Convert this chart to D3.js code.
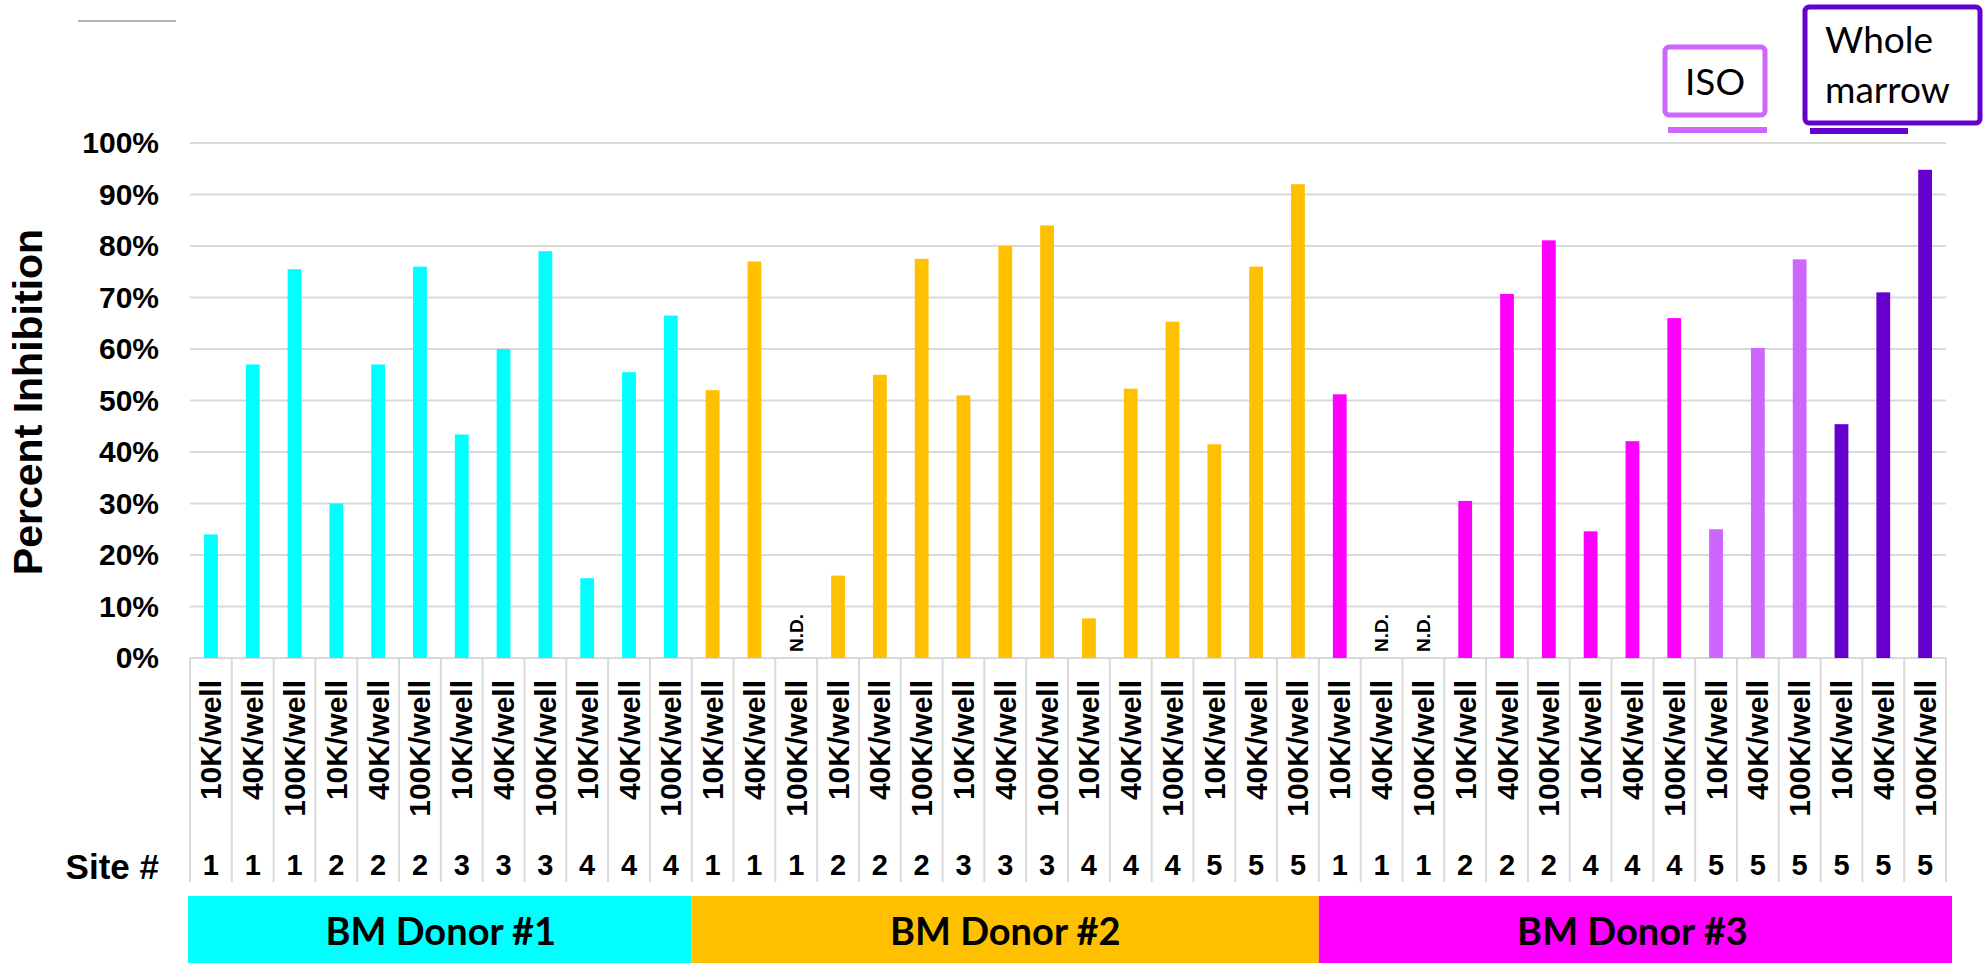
<!DOCTYPE html>
<html>
<head>
<meta charset="utf-8">
<script src="https://cdn.jsdelivr.net/npm/d3@7/dist/d3.min.js"></script>
<style>
  html, body { margin: 0; padding: 0; background: #fff; }
  svg { display: block; }
</style>
</head>
<body>
<svg id="chart" width="1987" height="979"></svg>
<script>
// ---------- data ----------
const cellLabels = [
  "10K/well","40K/well","100K/well","10K/well","40K/well","100K/well",
  "10K/well","40K/well","100K/well","10K/well","40K/well","100K/well",
  "10K/well","40K/well","100K/well","10K/well","40K/well","100K/well",
  "10K/well","40K/well","100K/well","10K/well","40K/well","100K/well",
  "10K/well","40K/well","100K/well",
  "10K/well","40K/well","100K/well","10K/well","40K/well","100K/well",
  "10K/well","40K/well","100K/well","10K/well","40K/well","100K/well",
  "10K/well","40K/well","100K/well"
];
const sites = [
  1,1,1,2,2,2,3,3,3,4,4,4,
  1,1,1,2,2,2,3,3,3,4,4,4,5,5,5,
  1,1,1,2,2,2,4,4,4,5,5,5,5,5,5
];
// percent inhibition; null = N.D.
const values = [
  24, 57, 75.5, 30, 57, 76, 43.4, 60, 79, 15.5, 55.5, 66.5,
  52, 77, null, 16, 55, 77.5, 51, 80, 84, 7.7, 52.3, 65.3, 41.5, 76, 92,
  51.2, null, null, 30.5, 70.7, 81.1, 24.6, 42.1, 66, 25, 60.2, 77.4, 45.4, 71, 94.8
];
const groups = [
  "D1","D1","D1","D1","D1","D1","D1","D1","D1","D1","D1","D1",
  "D2","D2","D2","D2","D2","D2","D2","D2","D2","D2","D2","D2","D2","D2","D2",
  "D3","D3","D3","D3","D3","D3","D3","D3","D3","ISO","ISO","ISO","WM","WM","WM"
];
const groupColors = { D1: "#00FFFF", D2: "#FFC000", D3: "#FF00FF", ISO: "#CC66FF", WM: "#6600CC" };
const donors = ["BM Donor #1", "BM Donor #2", "BM Donor #3"];
const donorCounts = [12, 15, 15];
const donorColors = ["#00FFFF", "#FFC000", "#FF00FF"];
const yTicks = [0, 10, 20, 30, 40, 50, 60, 70, 80, 90, 100];
const legendItems = [
  { label: ["ISO"], color: "#CC66FF" },
  { label: ["Whole", "marrow"], color: "#6600CC" }
];

// ---------- layout ----------
const svg = d3.select("#chart");
const plotLeft = 190, plotRight = 1946, plotTop = 143, plotBottom = 658;
const idx = d3.range(values.length);

const x = d3.scaleBand().domain(idx).range([plotLeft, plotRight]).paddingInner(0).paddingOuter(0);
const y = d3.scaleLinear().domain([0, 100]).range([plotBottom, plotTop]);
const boldFont = "'Liberation Sans', Arial, sans-serif";

// top-left stray line
svg.append("line").attr("x1", 78).attr("x2", 176).attr("y1", 21).attr("y2", 21)
  .attr("stroke", "#b3b3b3").attr("stroke-width", 2);

// gridlines
svg.append("g").selectAll("line").data(yTicks).join("line")
  .attr("x1", plotLeft).attr("x2", plotRight)
  .attr("y1", d => y(d)).attr("y2", d => y(d))
  .attr("stroke", "#d9d9d9").attr("stroke-width", 2);

// y axis labels
const yAxis = d3.axisLeft(y).tickValues(yTicks).tickFormat(d => d + "%").tickSize(0).tickPadding(0);
const gy = svg.append("g").attr("transform", `translate(${plotLeft - 31},0)`).call(yAxis);
gy.select(".domain").remove();
gy.selectAll("text").attr("font-family", boldFont).attr("font-weight", "bold")
  .attr("font-size", 30).attr("fill", "#000");

// y-axis title
svg.append("text")
  .attr("transform", `translate(28,402) rotate(-90)`)
  .attr("text-anchor", "middle").attr("dominant-baseline", "central")
  .attr("font-family", boldFont).attr("font-weight", "bold").attr("font-size", 41)
  .text("Percent Inhibition");

// category cell borders
const cellBottom = 882;
const edgeX = i => i < values.length ? x(i) : x(values.length - 1) + x.bandwidth();
svg.append("g").selectAll("line").data(d3.range(values.length + 1)).join("line")
  .attr("x1", edgeX).attr("x2", edgeX)
  .attr("y1", plotBottom).attr("y2", cellBottom)
  .attr("stroke", "#d9d9d9").attr("stroke-width", 2);

// bars
const barW = x.bandwidth() * 0.33;
svg.append("g").selectAll("rect").data(idx.filter(i => values[i] !== null)).join("rect")
  .attr("x", i => x(i) + (x.bandwidth() - barW) / 2)
  .attr("width", barW)
  .attr("y", i => y(values[i]))
  .attr("height", i => y(0) - y(values[i]))
  .attr("fill", i => groupColors[groups[i]]);

// N.D. labels
svg.append("g").selectAll("text").data(idx.filter(i => values[i] === null)).join("text")
  .attr("transform", i => `translate(${x(i) + x.bandwidth() / 2},${plotBottom - 6}) rotate(-90)`)
  .attr("text-anchor", "start").attr("dominant-baseline", "central")
  .attr("font-family", boldFont).attr("font-weight", "bold").attr("font-size", 19)
  .text("N.D.");

// category labels (rotated)
svg.append("g").selectAll("text").data(idx).join("text")
  .attr("transform", i => `translate(${x(i) + x.bandwidth() / 2},680) rotate(-90)`)
  .attr("text-anchor", "end").attr("dominant-baseline", "central")
  .attr("font-family", boldFont).attr("font-weight", "bold").attr("font-size", 30)
  .text(i => cellLabels[i]);

// site numbers
svg.append("g").selectAll("text").data(idx).join("text")
  .attr("x", i => x(i) + x.bandwidth() / 2).attr("y", 865)
  .attr("text-anchor", "middle").attr("dominant-baseline", "central")
  .attr("font-family", boldFont).attr("font-weight", "bold").attr("font-size", 29)
  .text(i => sites[i]);

svg.append("text").attr("x", 159).attr("y", 866)
  .attr("text-anchor", "end").attr("dominant-baseline", "central")
  .attr("font-family", boldFont).attr("font-weight", "bold").attr("font-size", 35)
  .text("Site #");

// donor bands
let startIdx = 0;
const bands = donors.map((d, k) => {
  const b = { name: d, s: startIdx, e: startIdx + donorCounts[k] - 1, color: donorColors[k] };
  startIdx += donorCounts[k];
  return b;
});
const bandG = svg.append("g");
bandG.selectAll("rect").data(bands).join("rect")
  .attr("x", b => x(b.s) - (b.s === 0 ? 2 : 0))
  .attr("width", b => x(b.e) + x.bandwidth() - x(b.s) + (b.s === 0 ? 2 : 0) + (b.e === values.length - 1 ? 6 : 0))
  .attr("y", 896).attr("height", 67)
  .attr("fill", b => b.color);
bandG.selectAll("text").data(bands).join("text")
  .attr("x", b => (x(b.s) + x(b.e) + x.bandwidth()) / 2)
  .attr("y", 930)
  .attr("text-anchor", "middle").attr("dominant-baseline", "central")
  .attr("font-family", "Lato, 'Open Sans', sans-serif").attr("font-weight", "bold").attr("font-size", 38)
  .text(b => b.name);

// legend boxes (top right)
const legendBoxes = [
  { x: 1665, y: 47, w: 100, h: 68, lx1: 1668, lx2: 1767, ly: 130 },
  { x: 1805, y: 7, w: 175, h: 116, lx1: 1810, lx2: 1908, ly: 131 }
];
const lg = svg.append("g");
legendItems.forEach((it, k) => {
  const b = legendBoxes[k];
  lg.append("rect").attr("x", b.x).attr("y", b.y).attr("width", b.w).attr("height", b.h)
    .attr("rx", 4).attr("fill", "#fff").attr("stroke", it.color).attr("stroke-width", 5);
  lg.append("line").attr("x1", b.lx1).attr("x2", b.lx2).attr("y1", b.ly).attr("y2", b.ly)
    .attr("stroke", it.color).attr("stroke-width", 6);
  it.label.forEach((t, j) => {
    lg.append("text")
      .attr("x", k === 0 ? b.x + b.w / 2 : b.x + 20)
      .attr("y", k === 0 ? 95 : 53 + j * 50)
      .attr("text-anchor", k === 0 ? "middle" : "start")
      .attr("font-family", "Lato, 'Open Sans', sans-serif").attr("font-size", 37)
      .attr("fill", "#000")
      .text(t);
  });
});
</script>
</body>
</html>
